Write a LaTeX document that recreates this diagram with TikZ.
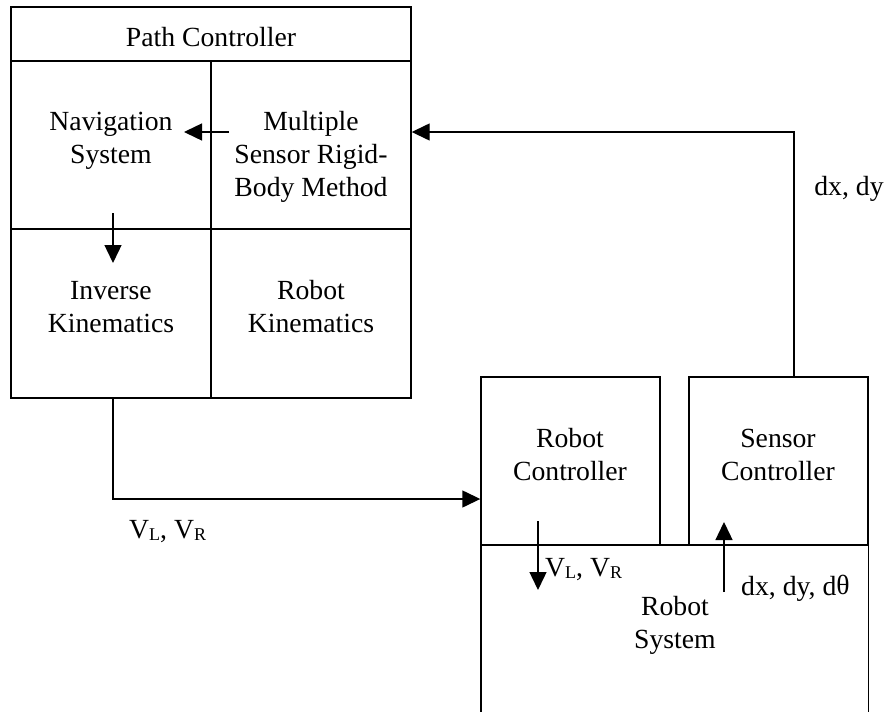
\documentclass[tikz,border=0pt]{standalone}
\usepackage{fontspec}
\setmainfont{Liberation Serif}
\usetikzlibrary{arrows.meta}
\newcommand\sbs[1]{\raisebox{-2pt}{\fontsize{18}{18}\selectfont #1}}
\begin{document}
\begin{tikzpicture}[x=1pt,y=-1pt,
  every node/.style={font=\fontsize{27.7}{33}\selectfont},
  cell/.style={draw,line width=1.4pt,inner sep=0pt,minimum width=#1},
  txt/.style={align=center,inner sep=0pt},
  lbl/.style={anchor=base west,inner sep=0pt},
  arr/.style={line width=1.4pt,-{Triangle[length=18pt,width=17pt]}},
  wire/.style={line width=1.4pt}]
\useasboundingbox (0,0) rectangle (886,712);
% Path controller cells
\node[cell=400pt,minimum height=54pt] (pc) at (211,34) {};
\node[cell=200pt,minimum height=168pt] (nav) at (111,145) {};
\node[cell=200pt,minimum height=168pt] (msr) at (311,145) {};
\node[cell=200pt,minimum height=169pt] (ik) at (111,313.5) {};
\node[cell=200pt,minimum height=169pt] (rk) at (311,313.5) {};
\node[txt] (pct) at (211,37.5) {Path Controller};
\node[txt] (navt) at (111,141) {Navigation\\System};
\node[txt] (msrt) at (311,157) {Multiple\\Sensor Rigid-\\Body Method};
\node[txt] (ikt) at (111,307) {Inverse\\Kinematics};
\node[txt] (rkt) at (311,307) {Robot\\Kinematics};
% Robot side
\node[cell=179pt,minimum height=168pt] (rc) at (570.5,461) {};
\node[cell=179pt,minimum height=168pt] (sc) at (778.5,461) {};
\node[txt] (rct) at (570,454.5) {Robot\\Controller};
\node[txt] (sct) at (778,455) {Sensor\\Controller};
\node[inner sep=0pt,minimum width=387pt,minimum height=167pt] (rs) at (674.5,628.5) {};
\draw[wire] (rs.south west) -- (rs.north west) -- (rs.north east) -- (rs.south east);
\node[txt] (rst) at (675,625.5) {Robot\\System};
% connector ports
\coordinate (msrout) at (229,132);
\coordinate (navin) at (184,132);
\coordinate (navout) at (113,213);
\coordinate (ikin) at (113,263);
\coordinate (fb) at (794,132);
\coordinate (vl) at (113,499);
\coordinate (rcout) at (538,521);
\coordinate (rsin) at (538,590);
\coordinate (rsout) at (724,592);
\coordinate (scin) at (724,522);
% connectors
\draw[arr] (msrout) -- (navin);
\draw[arr] (navout) -- (ikin);
\draw[arr] (sc.north -| fb) |- (msr.east |- fb);
\draw[arr] (ik.south -| vl) |- (rc.west |- vl);
\draw[arr] (rcout) -- (rsin);
\draw[arr] (rsout) -- (scin);
% labels
\node[anchor=base,inner sep=0pt] (dxdy) at (849,195) {dx, dy};
\node[lbl] (vl1) at (129,538) {V\sbs{L}, V\sbs{R}};
\node[lbl] (vl2) at (545,576) {V\sbs{L}, V\sbs{R}};
\node[lbl] (dxdyt) at (741,595) {dx, dy, d\raisebox{1pt}{θ}};
\end{tikzpicture}
\end{document}
